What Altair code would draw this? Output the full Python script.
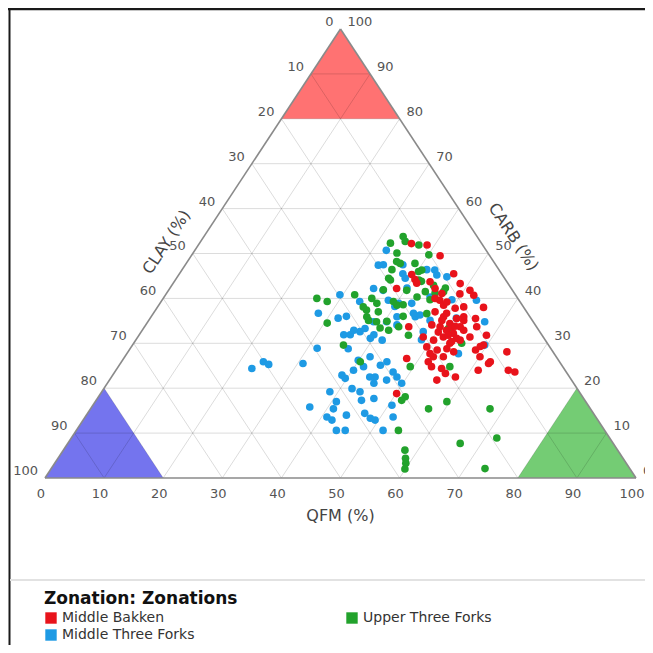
import altair as alt
import pandas as pd

# ---------------- data ----------------
LEGEND_ORDER = ["Middle Bakken", "Middle Three Forks", "Upper Three Forks"]
LEGEND_COLORS = ["#e8131b", "#1e9ae4", "#22a22c"]

# Middle Bakken (QFM %, CARB %); CLAY = 100 - QFM - CARB
mb_qfm = [35.9, 38.7, 42.1, 39.4, 40.5, 43.3, 46.4, 48.6, 51.0, 52.2, 49.7, 38.4, 44.9, 47.0,
          48.2, 51.8, 55.2, 48.4, 51.9, 55.1, 56.2, 54.4, 56.2, 58.8, 50.0, 51.3, 49.5, 47.5,
          49.6, 51.5, 53.0, 51.7, 54.9, 59.4, 48.3, 44.7, 50.0, 52.1, 53.6, 55.1, 58.6, 64.1,
          62.4, 61.3, 66.4, 67.7, 47.9, 51.9, 53.0, 54.9, 56.1, 58.2, 55.4, 50.1, 52.2, 53.9,
          53.5, 53.3, 48.4, 50.3, 52.3, 54.1, 50.4, 52.0, 53.4, 51.3, 60.1, 62.3, 41.2, 46.6,
          50.5, 46.0, 49.6, 52.9, 52.5, 59.0, 53.6]
mb_carb = [52.2, 51.9, 49.5, 45.3, 44.2, 43.7, 45.5, 43.3, 41.8, 40.7, 41.0, 42.2, 42.2, 39.6,
           38.5, 38.1, 38.0, 39.2, 35.5, 35.5, 33.7, 32.9, 31.4, 31.8, 33.7, 34.4, 35.9, 37.0,
           35.1, 32.9, 32.2, 31.4, 30.7, 29.6, 31.4, 33.7, 29.2, 28.5, 28.8, 28.1, 28.5, 28.1,
           25.9, 24.0, 24.0, 23.6, 26.6, 25.9, 24.8, 24.4, 23.3, 22.5, 21.8, 18.8, 27.0, 27.0,
           30.0, 35.1, 34.1, 32.5, 31.8, 31.1, 30.7, 33.7, 33.7, 27.7, 27.0, 25.5, 43.4, 41.1,
           37.8, 40.0, 36.7, 35.9, 33.8, 29.3, 30.4]

# Middle Three Forks
mtf_qfm = [32.4, 32.7, 33.5, 36.8, 42.8, 45.6, 37.8, 34.5, 36.3, 45.0, 53.2, 29.5, 33.6, 38.3,
           42.6, 27.9, 31.8, 33.0, 41.6, 44.7, 47.6, 57.0, 40.4, 38.2, 34.6, 35.7, 37.0, 37.5,
           39.7, 41.7, 39.5, 36.9, 31.6, 56.1, 59.6, 22.8, 24.0, 25.2, 30.9, 39.9, 41.5, 44.2,
           44.9, 38.8, 39.7, 40.2, 44.6, 45.1, 47.1, 48.3, 49.8, 46.9, 38.6, 42.0, 43.7, 46.8,
           40.8, 36.9, 41.1, 50.6, 44.0, 40.9, 46.9, 48.4, 49.4, 52.1, 44.0, 45.5, 51.9, 42.1,
           44.9, 43.7, 35.8, 40.4, 40.1, 44.0, 45.3, 49.0, 51.8, 47.7, 48.3, 43.7, 38.7, 40.1,
           42.5, 41.4, 41.5]
mtf_carb = [50.7, 47.4, 47.5, 47.5, 46.3, 44.8, 45.5, 42.2, 41.8, 40.3, 39.6, 40.8, 39.3, 39.6,
            38.9, 36.7, 35.6, 36.0, 35.9, 35.9, 35.1, 34.8, 34.8, 34.8, 31.9, 31.9, 32.6, 33.3,
            31.9, 30.7, 31.1, 28.8, 28.9, 27.7, 29.6, 24.4, 25.9, 25.3, 25.5, 26.2, 27.0, 25.1,
            25.9, 22.9, 22.2, 24.0, 22.5, 21.1, 23.6, 22.5, 21.1, 21.8, 19.2, 19.9, 19.2, 17.7,
            17.0, 15.8, 15.4, 16.2, 14.0, 13.6, 14.4, 13.3, 12.9, 13.6, 10.6, 10.6, 10.6, 12.9,
            17.3, 22.5, 32.9, 38.9, 38.2, 36.7, 36.3, 39.7, 35.6, 32.6, 30.8, 45.2, 44.5, 42.3,
            34.1, 46.4, 24.8]

# Upper Three Forks
utf_qfm = [33.7, 34.6, 37.3, 32.3, 40.1, 34.5, 35.4, 38.7, 40.6, 36.4, 41.2, 44.3, 40.3, 46.7,
           26.0, 28.1, 32.0, 35.3, 36.7, 40.3, 42.8, 35.7, 37.9, 30.5, 37.2, 38.7, 46.3, 43.0,
           51.6, 41.7, 45.6, 35.7, 40.4, 49.4, 56.1, 51.9, 51.7, 57.2, 59.5, 67.6, 54.5, 72.0,
           66.4, 57.8, 58.8, 59.4, 59.9, 73.4, 41.8, 43.6, 46.6, 45.4, 45.3, 39.3, 41.3, 40.4,
           42.6, 55.5, 36.3, 35.9, 35.5, 40.2, 36.5, 40.0, 34.8, 36.2]
utf_carb = [53.8, 52.7, 51.9, 52.3, 49.7, 50.1, 48.2, 47.8, 46.3, 44.1, 44.1, 42.9, 41.8, 41.5,
            40.0, 39.3, 40.8, 40.0, 38.9, 38.5, 40.3, 37.4, 37.0, 34.5, 35.1, 34.8, 36.6, 33.7,
            33.3, 32.9, 31.8, 29.6, 25.9, 24.8, 24.8, 18.1, 17.3, 15.4, 17.0, 15.4, 10.6, 8.9,
            7.7, 6.2, 4.4, 3.3, 2.0, 2.1, 43.8, 41.5, 42.3, 41.2, 39.7, 39.3, 38.6, 34.9,
            36.0, 30.0, 41.9, 44.5, 46.4, 46.0, 35.9, 33.4, 38.1, 47.8]

TICKS = [0, 10, 20, 30, 40, 50, 60, 70, 80, 90, 100]
GRID_LEVELS = [10, 20, 30, 40, 50, 60, 70, 80, 90]
CORNER_CUT = 80  # shaded corner regions: component >= 80 %
REGION_FILLS = {"CARB": "#ff7272", "CLAY": "#7474ee", "QFM": "#74cc74"}

FONT = "DejaVu Sans"


# ---------------- helpers (ternary -> cartesian) ----------------
def cart(qfm, carb):
    return qfm + carb / 2.0, carb


rows = []
for name, qs, cs in [("Middle Three Forks", mtf_qfm, mtf_carb),
                     ("Upper Three Forks", utf_qfm, utf_carb),
                     ("Middle Bakken", mb_qfm, mb_carb)]:
    for q, c in zip(qs, cs):
        x, y = cart(q, c)
        rows.append({"Zonation": name, "QFM": q, "CARB": c,
                     "CLAY": round(100 - q - c, 1), "X": x, "Y": y})
points = pd.DataFrame(rows)

# grid lines
grid_rows = []
for k in GRID_LEVELS:
    a, b = cart(0, k), cart(100 - k, k)          # CARB = k
    grid_rows.append({"x1": a[0], "y1": a[1], "x2": b[0], "y2": b[1]})
    a, b = cart(k, 0), cart(k, 100 - k)          # QFM = k
    grid_rows.append({"x1": a[0], "y1": a[1], "x2": b[0], "y2": b[1]})
    a, b = cart(100 - k, 0), cart(0, 100 - k)    # CLAY = k
    grid_rows.append({"x1": a[0], "y1": a[1], "x2": b[0], "y2": b[1]})
grid = pd.DataFrame(grid_rows)

edges = pd.DataFrame([
    {"x1": cart(0, 0)[0], "y1": 0, "x2": cart(100, 0)[0], "y2": 0},
    {"x1": cart(0, 0)[0], "y1": 0, "x2": cart(0, 100)[0], "y2": 100},
    {"x1": cart(100, 0)[0], "y1": 0, "x2": cart(0, 100)[0], "y2": 100},
])

r = 100 - CORNER_CUT
reg_rows = []
for q, c in [(0, CORNER_CUT), (0, 100), (r, CORNER_CUT)]:
    x, y = cart(q, c)
    reg_rows.append({"region": "CARB", "X": x, "Y": y, "base": CORNER_CUT, "fill": REGION_FILLS["CARB"]})
for q, c in [(0, 0), (0, r), (r, 0)]:
    x, y = cart(q, c)
    reg_rows.append({"region": "CLAY", "X": x, "Y": y, "base": 0, "fill": REGION_FILLS["CLAY"]})
for q, c in [(CORNER_CUT, 0), (CORNER_CUT, r), (100, 0)]:
    x, y = cart(q, c)
    reg_rows.append({"region": "QFM", "X": x, "Y": y, "base": 0, "fill": REGION_FILLS["QFM"]})
regions = pd.DataFrame(reg_rows)

qfm_lab = pd.DataFrame([{"X": cart(t, 0)[0], "Y": 0, "label": str(t)} for t in TICKS])
clay_lab = pd.DataFrame([{"X": cart(0, 100 - t)[0], "Y": 100 - t, "label": str(t)} for t in TICKS])
carb_lab = pd.DataFrame([{"X": cart(100 - t, t)[0], "Y": t, "label": str(t)} for t in TICKS])

W, H = 637, 637
XS = alt.Scale(domain=[-6.261, 101.523], nice=False, zero=False)
YS = alt.Scale(domain=[-37.194, 104.677], nice=False, zero=False)


def X(f):
    return alt.X(f, type="quantitative", scale=XS, axis=None)


def Y(f):
    return alt.Y(f, type="quantitative", scale=YS, axis=None)


region_layer = alt.Chart(regions).mark_area(opacity=1).encode(
    x=X("X"), y=Y("Y"), y2="base:Q",
    fill=alt.Fill("fill:N", scale=None), detail="region:N")

grid_layer = alt.Chart(grid).mark_rule(color="#000000", opacity=0.14, strokeWidth=1).encode(
    x=X("x1"), y=Y("y1"), x2="x2:Q", y2="y2:Q")

edge_layer = alt.Chart(edges).mark_rule(color="#8a8a8a", strokeWidth=1.6).encode(
    x=X("x1"), y=Y("y1"), x2="x2:Q", y2="y2:Q")

txt = dict(font=FONT, fontSize=13, color="#555555")
qfm_ticks = alt.Chart(qfm_lab).mark_text(align="center", baseline="middle", dx=-4, dy=16, **txt).encode(
    x=X("X"), y=Y("Y"), text="label:N")
clay_ticks = alt.Chart(clay_lab).mark_text(align="right", baseline="middle", dx=-7, dy=-7, **txt).encode(
    x=X("X"), y=Y("Y"), text="label:N")
carb_ticks = alt.Chart(carb_lab).mark_text(align="left", baseline="middle", dx=7, dy=-7, **txt).encode(
    x=X("X"), y=Y("Y"), text="label:N")

ttl = dict(font=FONT, fontSize=16, color="#444444", align="center", baseline="middle")
qfm_title = alt.Chart(pd.DataFrame([{"X": 50, "Y": 0, "t": "QFM (%)"}])).mark_text(dy=38, **ttl).encode(
    x=X("X"), y=Y("Y"), text="t:N")
clay_title = alt.Chart(pd.DataFrame([{"X": 25, "Y": 50, "t": "CLAY (%)"}])).mark_text(
    angle=303.4, dy=-28, dx=-5, **ttl).encode(x=X("X"), y=Y("Y"), text="t:N")
carb_title = alt.Chart(pd.DataFrame([{"X": 75, "Y": 50, "t": "CARB (%)"}])).mark_text(
    angle=56.6, dy=-30, **ttl).encode(x=X("X"), y=Y("Y"), text="t:N")

point_layer = alt.Chart(points).mark_circle(size=58, opacity=1).encode(
    x=X("X"), y=Y("Y"),
    color=alt.Color("Zonation:N",
                    scale=alt.Scale(domain=LEGEND_ORDER, range=LEGEND_COLORS),
                    legend=alt.Legend(
                        title="Zonation: Zonations", orient="none", legendX=36, legendY=583,
                        columns=2, columnPadding=150, rowPadding=3, padding=0,
                        titlePadding=3, titleFont=FONT, titleFontSize=17, titleFontWeight="bold",
                        titleColor="#111111", titleLimit=400,
                        labelFont=FONT, labelFontSize=14, labelColor="#333333", labelLimit=300,
                        labelOffset=4, symbolType="square", symbolSize=130,
                        symbolStrokeWidth=0, symbolOpacity=1)),
    tooltip=["Zonation:N", "QFM:Q", "CLAY:Q", "CARB:Q"])

frame_top = alt.Chart(pd.DataFrame([{"a": 0}])).mark_rule(color="#1a1a1a", strokeWidth=2.5).encode(
    x=alt.value(0), x2=alt.value(W), y=alt.value(1))
frame_left = alt.Chart(pd.DataFrame([{"a": 0}])).mark_rule(color="#1a1a1a", strokeWidth=2).encode(
    x=alt.value(1.5), y=alt.value(0), y2=alt.value(H))
separator = alt.Chart(pd.DataFrame([{"a": 0}])).mark_rule(color="#e2e2e2", strokeWidth=2).encode(
    x=alt.value(2), x2=alt.value(W), y=alt.value(572))

chart = alt.layer(
    region_layer, grid_layer, edge_layer,
    qfm_ticks, clay_ticks, carb_ticks,
    qfm_title, clay_title, carb_title,
    point_layer, frame_top, frame_left, separator,
).properties(
    width=W, height=H, padding=0,
    autosize=alt.AutoSizeParams(type="none"),
).configure_view(stroke=None)

chart.save("out.html", embed_options={"renderer": "svg", "actions": False})
